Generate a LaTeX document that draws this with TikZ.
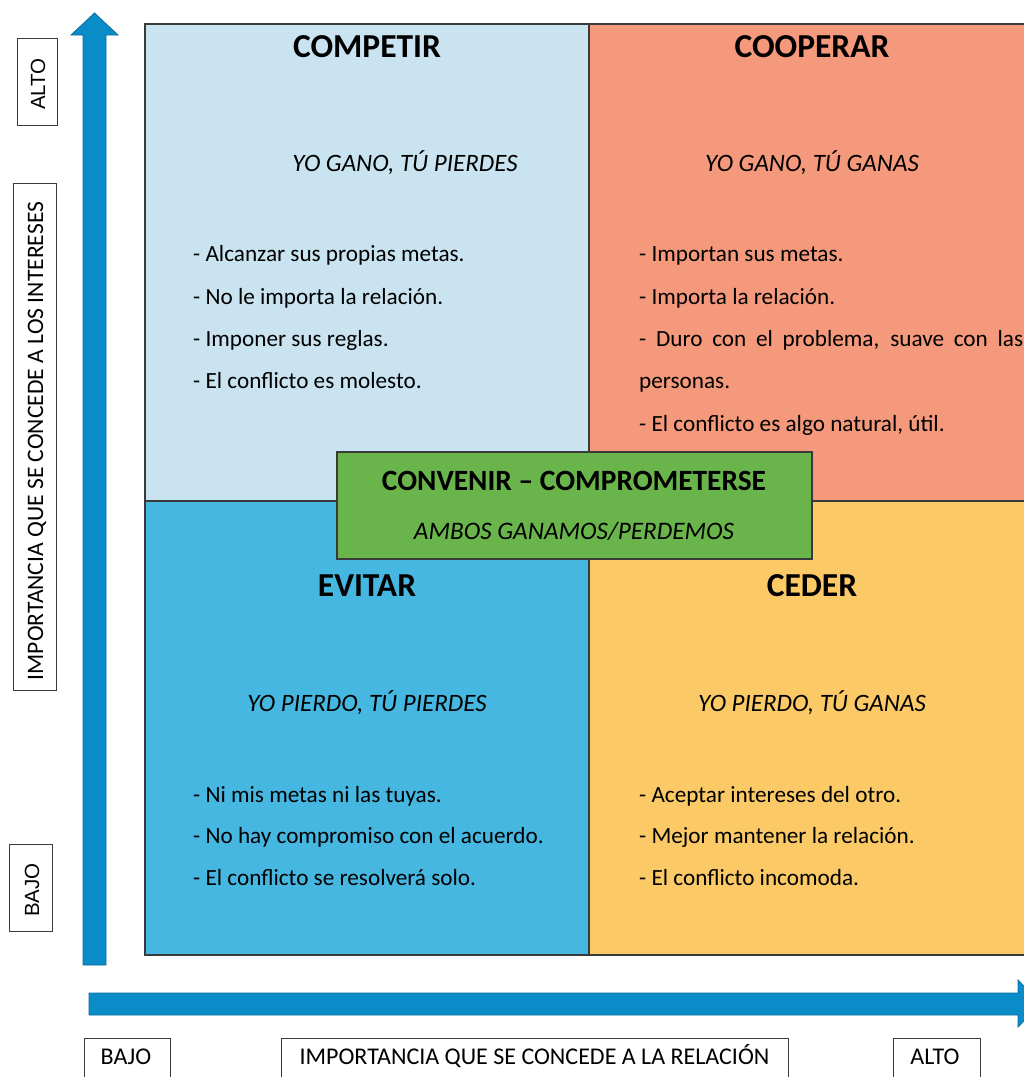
\documentclass[tikz,border=0pt]{standalone}
\usepackage{fontspec}
\setmainfont{Carlito}
\newfontfamily\arialf{Liberation Sans}
\definecolor{qtl}{HTML}{C9E4F0}
\definecolor{qtr}{HTML}{F4997B}
\definecolor{qbl}{HTML}{45B7E0}
\definecolor{qbr}{HTML}{FBCA66}
\definecolor{qmid}{HTML}{6AB54B}
\definecolor{arrowc}{HTML}{0A8CC8}
\definecolor{arrowb}{HTML}{0B6E9C}
\definecolor{edgec}{HTML}{3A3A3A}
\begin{document}
\begin{tikzpicture}[x=1pt,y=-1pt,
  quad/.style={draw=edgec,line width=1.3pt},
  ttl/.style={anchor=base,font=\fontsize{33.5}{36}\selectfont\bfseries},
  sub/.style={anchor=base,font=\fontsize{25}{28}\selectfont\itshape},
  body/.style={anchor=base west,font=\fontsize{23.2}{27}\selectfont,inner sep=0pt},
  lbox/.style={draw=edgec,line width=1pt,fill=white,inner sep=0pt},
  ltxt/.style={font=\fontsize{24}{26}\selectfont,inner sep=0pt},
  vtxt/.style={font=\fontsize{23.6}{26}\selectfont,inner sep=0pt},
  atxt/.style={font=\fontsize{20.5}{22}\selectfont\arialf,inner sep=0pt},
  arr/.style={fill=arrowc,draw=arrowb,line width=0.8pt}]
\useasboundingbox (0,0) rectangle (1024,1077);
\clip (0,0) rectangle (1024,1077);
% quadrants
\node[quad,fill=qtl,minimum width=444,minimum height=477,inner sep=0pt] (tl) at (367,262.5) {};
\node[quad,fill=qtr,minimum width=446,minimum height=477,inner sep=0pt] (tr) at (812,262.5) {};
\node[quad,fill=qbl,minimum width=444,minimum height=454,inner sep=0pt] (bl) at (367,728) {};
\node[quad,fill=qbr,minimum width=446,minimum height=454,inner sep=0pt] (br) at (812,728) {};
\node[quad,fill=qmid,minimum width=475,minimum height=107,inner sep=0pt] (mid) at (574.5,505.5) {};
% titles
\node[ttl] (t1) at (367,57) {COMPETIR};
\node[ttl] (t2) at (812,57) {COOPERAR};
\node[ttl] (t3) at (367,596) {EVITAR};
\node[ttl] (t4) at (812,596) {CEDER};
\node[anchor=base,font=\fontsize{29.4}{31}\selectfont\bfseries] (t5) at (574,490) {CONVENIR – COMPROMETERSE};
\node[anchor=base,font=\fontsize{25.2}{28}\selectfont\itshape] (s5) at (574,539) {AMBOS GANAMOS/PERDEMOS};
% subtitles
\node[sub] (s1) at (405,171) {YO GANO, TÚ PIERDES};
\node[sub] (s2) at (812,171) {YO GANO, TÚ GANAS};
\node[sub] (s3) at (367,711) {YO PIERDO, TÚ PIERDES};
\node[sub] (s4) at (812,711) {YO PIERDO, TÚ GANAS};
% body top-left
\node[body] (a1) at (193,261) {- Alcanzar sus propias metas.};
\node[body] (a2) at (193,304) {- No le importa la relación.};
\node[body] (a3) at (193,346) {- Imponer sus reglas.};
\node[body] (a4) at (193,388) {- El conflicto es molesto.};
% body top-right
\node[body] (b1) at (639,261) {- Importan sus metas.};
\node[body] (b2) at (639,304) {- Importa la relación.};
\node[body] (b3) at (639,346) {\makebox[384pt][s]{- Duro con el problema, suave con las}};
\node[body] (b4) at (639,388) {personas.};
\node[body] (b5) at (639,431) {- El conflicto es algo natural, útil.};
% body bottom-left
\node[body] (c1) at (193,802) {- Ni mis metas ni las tuyas.};
\node[body] (c2) at (193,843) {- No hay compromiso con el acuerdo.};
\node[body] (c3) at (193,885) {- El conflicto se resolverá solo.};
% body bottom-right
\node[body] (d1) at (639,802) {- Aceptar intereses del otro.};
\node[body] (d2) at (639,843) {- Mejor mantener la relación.};
\node[body] (d3) at (639,885) {- El conflicto incomoda.};
% arrows
\filldraw[arr] (83,965) -- (83,35) -- (71,35) -- (94.5,13) -- (118,35) -- (106,35) -- (106,965) -- cycle;
\filldraw[arr] (89,993) -- (1018,993) -- (1018,980) -- (1041,1003.5) -- (1018,1027) -- (1018,1015) -- (89,1015) -- cycle;
% vertical labels
\node[lbox,minimum width=40,minimum height=87] (yalto) at (37,81.5) {};
\node[atxt,rotate=90] (yaltot) at (38,84) {ALTO};
\node[lbox,minimum width=43,minimum height=507] (ylab) at (34.5,436.5) {};
\node[vtxt,rotate=90] (ylabt) at (37,441) {IMPORTANCIA QUE SE CONCEDE A LOS INTERESES};
\node[lbox,minimum width=43,minimum height=87] (ybajo) at (31,887.5) {};
\node[atxt,rotate=90] (ybajot) at (32,890) {BAJO};
% horizontal labels
\node[lbox,minimum width=86,minimum height=60] (xbajo) at (127.5,1068) {};
\node[ltxt,anchor=base] (xbajot) at (126,1064) {BAJO};
\node[lbox,minimum width=507,minimum height=60] (xlab) at (534.5,1068) {};
\node[ltxt,anchor=base] (xlabt) at (534.5,1064) {IMPORTANCIA QUE SE CONCEDE A LA RELACIÓN};
\node[lbox,minimum width=87,minimum height=60] (xalto) at (936.5,1068) {};
\node[ltxt,anchor=base] (xaltot) at (935,1064) {ALTO};
\end{tikzpicture}
\end{document}
